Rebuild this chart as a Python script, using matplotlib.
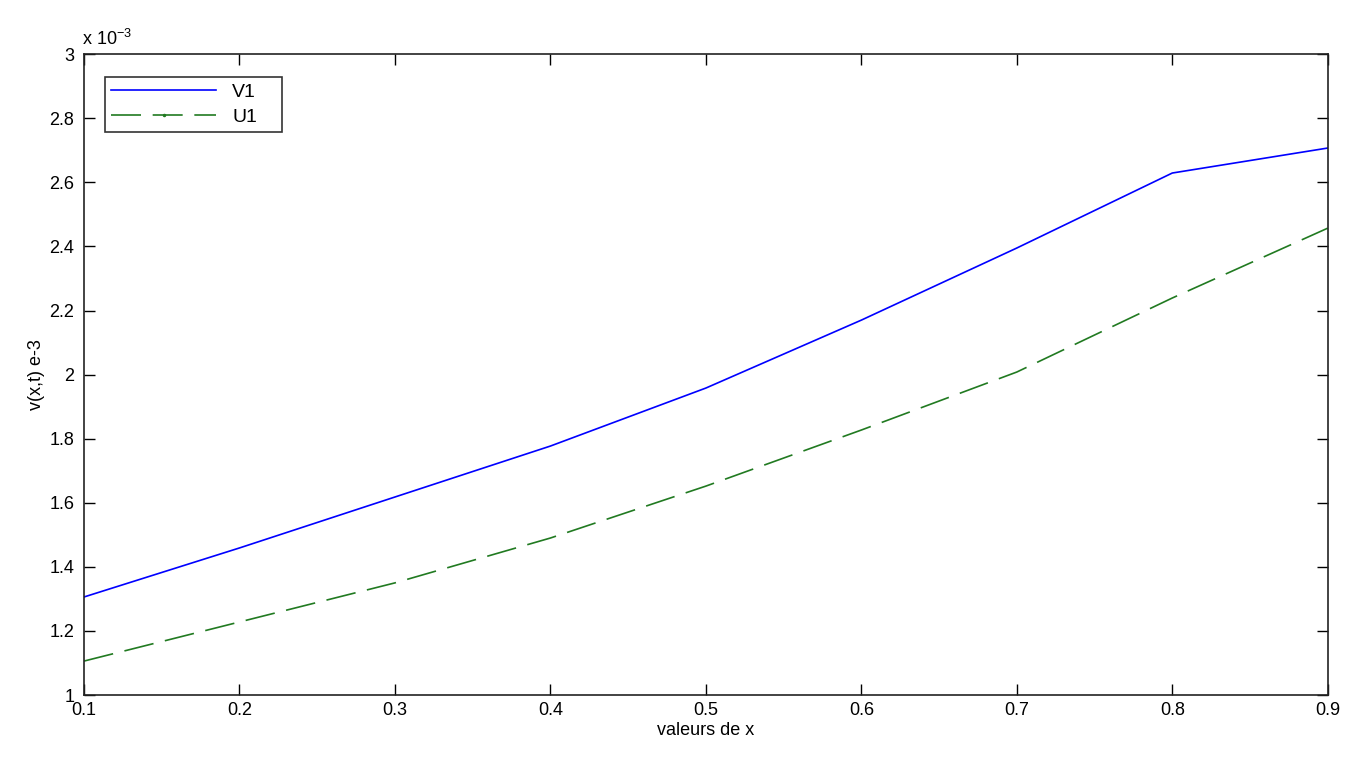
import numpy as np
import matplotlib.pyplot as plt
from matplotlib.lines import Line2D

plt.rcParams['font.family'] = ['Liberation Sans', 'DejaVu Sans']
plt.rcParams['mathtext.fontset'] = 'custom'
plt.rcParams['mathtext.rm'] = 'Liberation Sans'
plt.rcParams['mathtext.default'] = 'regular'

x = [0.1, 0.2, 0.3, 0.4, 0.5, 0.6, 0.7, 0.8, 0.9]
v1 = [1.306, 1.459, 1.618, 1.777, 1.958, 2.170, 2.395, 2.629, 2.707]
u1 = [1.106, 1.228, 1.350, 1.490, 1.652, 1.827, 2.008, 2.239, 2.457]
yticks = [1, 1.2, 1.4, 1.6, 1.8, 2, 2.2, 2.4, 2.6, 2.8, 3]

blue = '#0000ff'
green = '#217a21'

fig = plt.figure(figsize=(13.66, 7.68), dpi=100)
ax = fig.add_axes([0.0615, 0.095, 0.9105, 0.8345])

ax.plot(x, v1, color=blue, lw=1.2)
ax.plot(x, u1, color=green, lw=1.2, dashes=(18, 7))

ax.set_xlim(0.1, 0.9)
ax.set_ylim(1, 3)
ax.set_xticks(x)
ax.set_xticklabels([f'{v:g}' for v in x])
ax.set_yticks(yticks)
ax.set_yticklabels([f'{v:g}' for v in yticks])
ax.tick_params(direction='in', top=True, right=True, length=8, width=1, labelsize=13)
ax.tick_params(axis='y', pad=7)
ax.tick_params(axis='x', pad=5)
for s in ax.spines.values():
    s.set_linewidth(1.2)
    s.set_color('#222222')

ax.text(-0.002, 1.008, r'x 10$^{-3}$', transform=ax.transAxes, fontsize=13,
        ha='left', va='bottom')
ax.set_xlabel('valeurs de x', fontsize=13, labelpad=2)
ax.set_ylabel('v(x,t) e-3', fontsize=13, labelpad=3)

# legend handles (U1 shows a '.' marker only in the legend)
handles = [Line2D([], [], color=blue, lw=1.2),
           Line2D([], [], color=green, lw=1.2, dashes=(18, 7), marker='.', markersize=3)]
leg = ax.legend(handles, ['V1', 'U1'], loc='upper left', fontsize=14, frameon=True,
                fancybox=False, edgecolor='black', handlelength=5.4, borderpad=0.35,
                labelspacing=0.35, mode='expand', numpoints=1,
                bbox_to_anchor=(0.0088, 0.878, 0.158, 0.102))
leg.get_frame().set_linewidth(1.2)

fig.savefig('out.png', dpi=100)
